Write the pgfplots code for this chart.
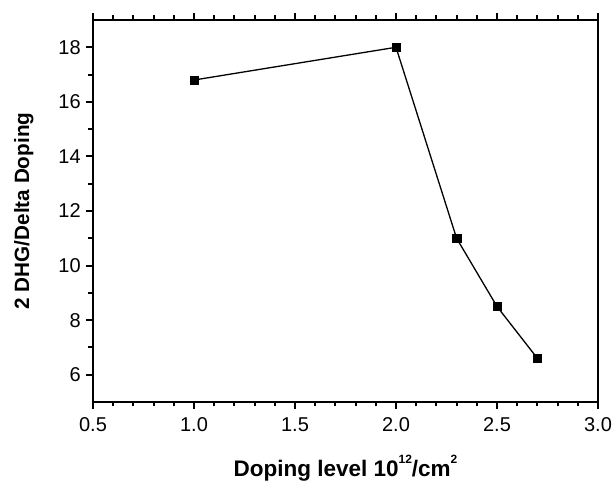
\documentclass[border=0pt]{standalone}
\usepackage{fontspec}
\setmainfont{Liberation Sans}
\usepackage{pgfplots}
\pgfplotsset{compat=1.18}
\newcommand{\supr}[1]{\raisebox{0.6em}{\fontsize{12}{13}\selectfont #1}}
\begin{document}
\begin{tikzpicture}
\useasboundingbox (-93pt,-82pt) rectangle (523pt,402pt);
\begin{axis}[
    at={(0,0)}, anchor=south west,
    scale only axis,
    width=505pt, height=382pt,
    xmin=0.5, xmax=3.0,
    ymin=5, ymax=19,
    xtick={0.5,1.0,...,3.0},
    ytick={6,8,...,18},
    minor x tick num=4,
    minor y tick num=1,
    xtick pos=both,
    ytick pos=left,
    tick align=outside,
    major tick length=7pt,
    minor tick length=4.5pt,
    major tick style={line width=2pt, black},
    minor tick style={line width=2pt, black},
    axis line style={line width=2pt},
    every outer x axis line/.append style={line width=2pt},
    every outer y axis line/.append style={line width=2pt},
    line width=2pt,
    x tick label style={/pgf/number format/fixed, /pgf/number format/fixed zerofill, /pgf/number format/precision=1, yshift=-4pt},
    y tick label style={xshift=-1pt},
    /pgf/number format/assume math mode=true,
    tick label style={font=\fontsize{20}{23}\selectfont},
    xlabel={\textbf{Doping level 10\supr{12}/cm\supr{2}}},
    ylabel={\textbf{2 DHG/Delta Doping}},
    xlabel style={font=\fontsize{22.5}{26}\selectfont, at={(axis description cs:0.5,-0.196)}, anchor=base},
    ylabel style={font=\fontsize{20.7}{24}\selectfont, at={(axis description cs:-0.137,0.5)}, anchor=center},
]
\addplot[black, line width=1.3pt, mark=square*, mark size=4.2pt, mark options={line width=0.5pt}]
coordinates {
    (1.0, 16.8)
    (2.0, 18.0)
    (2.3, 11.0)
    (2.5, 8.5)
    (2.7, 6.6)
};
\end{axis}
\end{tikzpicture}
\end{document}
